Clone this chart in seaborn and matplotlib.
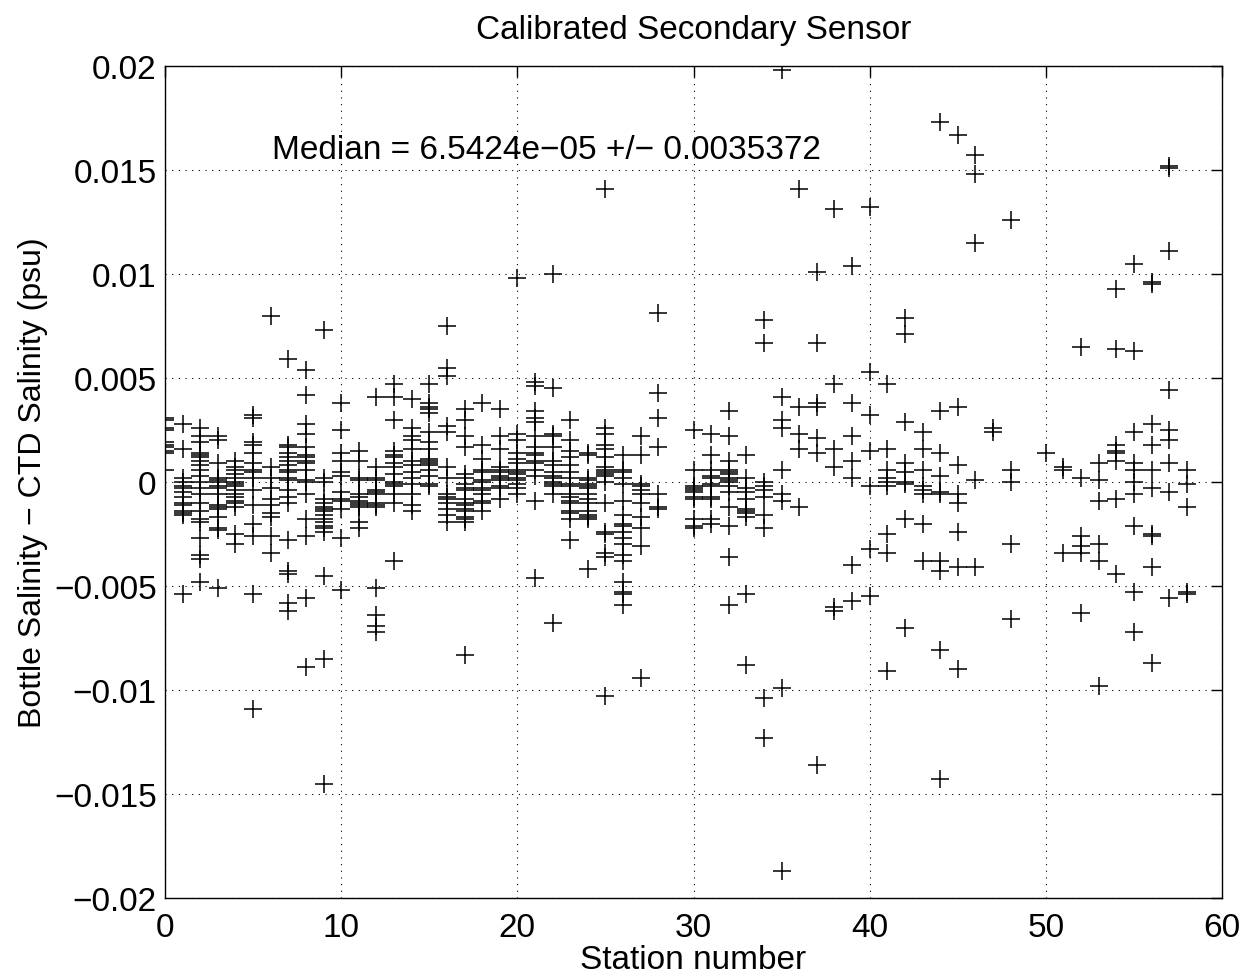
import matplotlib
matplotlib.use('Agg')
import matplotlib.pyplot as plt
import pandas as pd
import seaborn as sns
from matplotlib.ticker import FuncFormatter

# bottle minus CTD salinity (psu), one list per station
s00 = [0.0031, 0.0030, 0.0026, 0.0025, 0.0019, 0.0018, 0.0017, 0.0015, 0.0014, 0.0006]
s01 = [0.0028, 0.0016, 0.0002, 0.0, -0.0002, -0.0003, -0.0005, -0.0007, -0.0010, -0.0011, -0.0014, -0.0015, -0.0016, -0.0054]
s02 = [0.0026, 0.0022, 0.0019, 0.0014, 0.0013, 0.0012, 0.0010, 0.0008, 0.0006, 0.0003, 0.0, -0.0003, -0.0006, -0.0010,
       -0.0014, -0.0018, -0.0019, -0.0027, -0.0035, -0.0037, -0.0048]
s03 = [0.0022, 0.0020, 0.0009, 0.0002, 0.0001, 0.0, -0.0002, -0.0003, -0.0006, -0.0011, -0.0012, -0.0013, -0.0017, -0.0022, -0.0023, -0.0051]
s04 = [0.0010, 0.0007, 0.0006, 0.0004, 0.0002, 0.0, -0.0001, -0.0002, -0.0004, -0.0006, -0.0007, -0.0009, -0.0010, -0.0012, -0.0025, -0.0030]
s05 = [0.0032, 0.0031, 0.0019, 0.0018, 0.0014, 0.0009, 0.0006, 0.0005, 0.0002, -0.0004, -0.0011, -0.0020, -0.0026, -0.0054, -0.0109]
s06 = [0.0080, 0.0007, 0.0002, -0.0003, -0.0008, -0.0011, -0.0015, -0.0017, -0.0026, -0.0034]
s07 = [0.0059, 0.0018, 0.0017, 0.0014, 0.0012, 0.0010, 0.0008, 0.0006, 0.0005, 0.0002, 0.0001, -0.0004, -0.0007, -0.0010,
       -0.0028, -0.0043, -0.0044, -0.0058, -0.0062]
s08 = [0.0054, 0.0042, 0.0028, 0.0023, 0.0017, 0.0013, 0.0012, 0.0010, 0.0009, 0.0006, 0.0001, 0.0, -0.0006, -0.0018,
       -0.0026, -0.0056, -0.0089]
s09 = [0.0073, 0.0002, 0.0, -0.0008, -0.0010, -0.0012, -0.0013, -0.0014, -0.0016, -0.0018, -0.0019, -0.0021, -0.0022,
       -0.0024, -0.0045, -0.0085, -0.0145]
s10 = [0.0038, 0.0025, 0.0014, 0.0010, 0.0005, 0.0003, -0.0005, -0.0008, -0.0009, -0.0013, -0.0027, -0.0052]
s11 = [0.0015, 0.0010, 0.0002, 0.0001, -0.0006, -0.0007, -0.0009, -0.0010, -0.0011, -0.0012, -0.0019, -0.0022]
s12 = [0.0041, 0.0007, 0.0002, 0.0001, -0.0004, -0.0005, -0.0006, -0.0010, -0.0011, -0.0012, -0.0051, -0.0064, -0.0069, -0.0072]
s13 = [0.0047, 0.0041, 0.0030, 0.0015, 0.0013, 0.0012, 0.0009, 0.0007, 0.0004, 0.0, -0.0001, -0.0002, -0.0006, -0.0010, -0.0038]
s14 = [0.0040, 0.0026, 0.0022, 0.0020, 0.0016, 0.0010, 0.0008, 0.0005, 0.0002, -0.0001, -0.0006, -0.0011, -0.0014]
s15 = [0.0047, 0.0038, 0.0036, 0.0035, 0.0033, 0.0024, 0.0019, 0.0016, 0.0011, 0.0010, 0.0009, 0.0008, 0.0006, 0.0003, -0.0001, -0.0002]
s16 = [0.0075, 0.0055, 0.0051, 0.0027, 0.0024, 0.0007, 0.0002, -0.0006, -0.0007, -0.0008, -0.0010, -0.0013, -0.0016, -0.0019]
s17 = [0.0035, 0.0030, 0.0022, 0.0017, 0.0004, 0.0002, -0.0001, -0.0003, -0.0004, -0.0008, -0.0010, -0.0011, -0.0013,
       -0.0014, -0.0017, -0.0018, -0.0019, -0.0083]
s18 = [0.0038, 0.0018, 0.0011, 0.0006, 0.0005, 0.0001, 0.0, -0.0003, -0.0004, -0.0006, -0.0009, -0.0010, -0.0014]
s19 = [0.0035, 0.0022, 0.0016, 0.0007, 0.0006, 0.0005, 0.0003, 0.0002, 0.0001, -0.0002, -0.0003, -0.0008]
s20 = [0.0098, 0.0023, 0.0020, 0.0014, 0.0011, 0.0009, 0.0006, 0.0005, 0.0004, 0.0002, 0.0001, -0.0001, -0.0003, -0.0006]
s21 = [0.0048, 0.0046, 0.0034, 0.0031, 0.0029, 0.0022, 0.0017, 0.0014, 0.0013, 0.0010, 0.0009, 0.0006, 0.0003, -0.0009, -0.0046]
s22 = [0.0100, 0.0045, 0.0023, 0.0022, 0.0017, 0.0010, 0.0008, 0.0005, 0.0003, 0.0002, 0.0, -0.0001, -0.0002, -0.0006, -0.0068]
s23 = [0.0030, 0.0020, 0.0015, 0.0012, 0.0008, 0.0005, 0.0002, -0.0001, -0.0002, -0.0006, -0.0007, -0.0009, -0.0010,
       -0.0014, -0.0015, -0.0018, -0.0028]
s24 = [0.0014, 0.0013, 0.0002, 0.0001, -0.0001, -0.0002, -0.0003, -0.0006, -0.0008, -0.0010, -0.0014, -0.0016, -0.0017, -0.0018, -0.0042]
s25 = [0.0141, 0.0026, 0.0023, 0.0018, 0.0016, 0.0012, 0.0007, 0.0006, 0.0005, 0.0004, 0.0003, 0.0, -0.0010, -0.0024,
       -0.0025, -0.0034, -0.0036, -0.0103]
s26 = [0.0013, 0.0006, 0.0005, 0.0002, -0.0001, -0.0009, -0.0016, -0.0020, -0.0021, -0.0024, -0.0027, -0.0030, -0.0035,
       -0.0038, -0.0048, -0.0053, -0.0054, -0.0059]
s27 = [0.0022, 0.0013, -0.0001, -0.0002, -0.0004, -0.0006, -0.0010, -0.0017, -0.0022, -0.0031, -0.0094]
s28 = [0.0081, 0.0043, 0.0031, 0.0017, -0.0006, -0.0012, -0.0013]
s30 = [0.0025, 0.0006, -0.0002, -0.0003, -0.0004, -0.0005, -0.0007, -0.0008, -0.0018, -0.0021, -0.0022]
s31 = [0.0023, 0.0013, 0.0006, 0.0003, 0.0002, -0.0001, -0.0002, -0.0007, -0.0008, -0.0018, -0.0020]
s32 = [0.0034, 0.0022, 0.0010, 0.0006, 0.0005, 0.0004, 0.0002, 0.0001, 0.0, -0.0002, -0.0005, -0.0012, -0.0021, -0.0036, -0.0059]
s33 = [0.0013, 0.0002, -0.0003, -0.0005, -0.0008, -0.0013, -0.0014, -0.0015, -0.0017, -0.0054, -0.0088]
s34 = [0.0078, 0.0067, 0.0, -0.0002, -0.0004, -0.0007, -0.0016, -0.0022, -0.0104, -0.0123]
s35 = [0.0198, 0.0041, 0.0030, 0.0026, 0.0006, -0.0006, -0.0009, -0.0099, -0.0187]
s36 = [0.0141, 0.0036, 0.0023, 0.0016, -0.0012]
s37 = [0.0101, 0.0067, 0.0038, 0.0036, 0.0021, 0.0014, -0.0136]
s38 = [0.0131, 0.0047, 0.0016, 0.0007, -0.0060, -0.0062]
s39 = [0.0104, 0.0038, 0.0022, 0.0010, 0.0002, -0.0040, -0.0057]
s40 = [0.0132, 0.0053, 0.0032, 0.0015, -0.0002, -0.0032, -0.0055]
s41 = [0.0047, 0.0016, 0.0006, 0.0002, 0.0, -0.0002, -0.0025, -0.0034, -0.0091]
s42 = [0.0079, 0.0071, 0.0029, 0.0009, 0.0005, 0.0, -0.0001, -0.0018, -0.0070]
s43 = [0.0024, 0.0016, 0.0006, -0.0002, -0.0004, -0.0006, -0.0020, -0.0038]
s44 = [0.0173, 0.0034, 0.0014, 0.0003, -0.0005, -0.0006, -0.0038, -0.0043, -0.0081, -0.0143]
s45 = [0.0167, 0.0036, 0.0008, -0.0006, -0.0010, -0.0024, -0.0041, -0.0090]
s46 = [0.0157, 0.0148, 0.0115, 0.0001, -0.0041]
s47 = [0.0026, 0.0024]
s48 = [0.0126, 0.0006, 0.0, -0.0030, -0.0066]
s50 = [0.0014]
s51 = [0.0007, 0.0006, -0.0034]
s52 = [0.0065, 0.0002, -0.0026, -0.0031, -0.0034, -0.0063]
s53 = [0.0009, 0.0001, -0.0009, -0.0030, -0.0038, -0.0098]
s54 = [0.0093, 0.0064, 0.0018, 0.0015, 0.0014, 0.0010, -0.0008, -0.0044]
s55 = [0.0105, 0.0063, 0.0024, 0.0009, 0.0006, 0.0, -0.0006, -0.0021, -0.0053, -0.0072]
s56 = [0.0096, 0.0095, 0.0028, 0.0018, 0.0006, -0.0003, -0.0025, -0.0026, -0.0041, -0.0087]
s57 = [0.0152, 0.0151, 0.0111, 0.0044, 0.0025, 0.0020, 0.0009, -0.0005, -0.0056]
s58 = [0.0006, -0.0001, -0.0012, -0.0053, -0.0054]

station_ids = [0, 1, 2, 3, 4, 5, 6, 7, 8, 9, 10, 11, 12, 13, 14, 15, 16, 17, 18, 19, 20, 21, 22, 23, 24, 25, 26, 27, 28,
               30, 31, 32, 33, 34, 35, 36, 37, 38, 39, 40, 41, 42, 43, 44, 45, 46, 47, 48, 50, 51, 52, 53, 54, 55, 56, 57, 58]
station_diffs = [s00, s01, s02, s03, s04, s05, s06, s07, s08, s09, s10, s11, s12, s13, s14, s15, s16, s17, s18, s19, s20,
                 s21, s22, s23, s24, s25, s26, s27, s28, s30, s31, s32, s33, s34, s35, s36, s37, s38, s39, s40, s41, s42,
                 s43, s44, s45, s46, s47, s48, s50, s51, s52, s53, s54, s55, s56, s57, s58]

rows = []
for st, vals in zip(station_ids, station_diffs):
    for v in vals:
        rows.append({'station': st, 'diff': v})
df = pd.DataFrame(rows)

sns.set_style('white')
plt.rcParams['font.family'] = ['Liberation Sans', 'DejaVu Sans']
plt.rcParams['text.color'] = 'black'
plt.rcParams['axes.labelcolor'] = 'black'
plt.rcParams['xtick.color'] = 'black'
plt.rcParams['ytick.color'] = 'black'

fig = plt.figure(figsize=(12.53, 9.79), dpi=100)
ax = fig.add_axes([0.1317, 0.0817, 0.8436, 0.8499])

sns.scatterplot(data=df, x='station', y='diff', marker='+', color='black', s=170, linewidth=1.1, ax=ax, legend=False)

ax.set_xlim(0, 60)
ax.set_ylim(-0.02, 0.02)
ax.set_xticks(range(0, 61, 10))
ax.set_yticks([-0.02, -0.015, -0.01, -0.005, 0, 0.005, 0.01, 0.015, 0.02])
ax.yaxis.set_major_formatter(FuncFormatter(lambda v, p: ('%g' % round(v, 4)).replace('-', '\u2212')))
ax.grid(True, color='black', linestyle=(0, (1, 5)), linewidth=0.8)
ax.tick_params(direction='in', length=8, width=1, top=True, right=True, labelsize=24)
ax.tick_params(axis='x', pad=10)
ax.tick_params(axis='y', pad=6)
for sp in ax.spines.values():
    sp.set_visible(True)
    sp.set_color('black')
    sp.set_linewidth(1)

ax.set_title('Calibrated Secondary Sensor', fontsize=24, pad=20)
ax.set_xlabel('Station number', fontsize=24, labelpad=1)
ax.set_ylabel('Bottle Salinity \u2212 CTD Salinity (psu)', fontsize=23, labelpad=4)
ax.text(6.1, 0.016, 'Median = 6.5424e\u221205 +/\u2212 0.0035372', fontsize=24, va='center', ha='left')

fig.savefig('out.png', dpi=100)
